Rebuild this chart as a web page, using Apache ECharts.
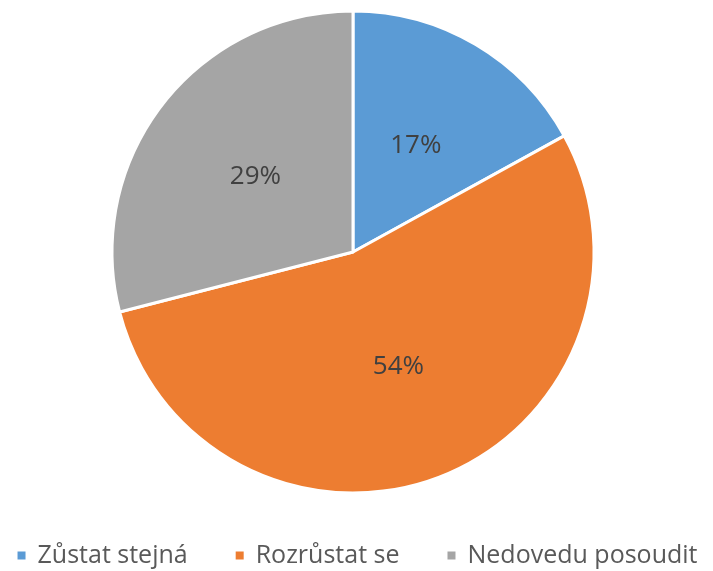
<!DOCTYPE html>
<html lang="cs">
<head>
<meta charset="UTF-8">
<style>
  html, body { height: 100%; margin: 0; background: #fff; }
</style>
</head>
<body>
<div id="chart" style="width:713px;height:571px;"></div>
<script src="https://cdn.jsdelivr.net/npm/echarts@6/dist/echarts.min.js"></script>
<script>
    var categories = ['Zůstat stejná', 'Rozrůstat se', 'Nedovedu posoudit'];
    var values = [17, 54, 29];
    var colors = ['#5B9BD5', '#ED7D31', '#A5A5A5'];

    var myChart = echarts.init(document.getElementById('chart'));
    myChart.setOption({
        color: colors,
        textStyle: { fontFamily: 'Open Sans' },
        legend: {
            bottom: -2,
            left: 'center',
            itemWidth: 10,
            itemHeight: 10,
            itemGap: 46,
            icon: 'rect',
            textStyle: { fontSize: 25, color: '#595959', fontFamily: 'Open Sans', padding: [0, 0, 0, 6] },
            data: categories
        },
        series: [{
            type: 'pie',
            center: [353, 252],
            radius: 241,
            startAngle: 90,
            clockwise: true,
            silent: true,
            itemStyle: { borderColor: '#fff', borderWidth: 3 },
            label: {
                position: 'inside',
                formatter: '{d}%',
                color: '#404040',
                fontSize: 26,
                fontFamily: 'Open Sans',
                padding: [10, 0, 0, 0]
            },
            labelLine: { show: false },
            data: categories.map(function (c, i) { return { name: c, value: values[i] }; })
        }]
    });
</script>
</body>
</html>
